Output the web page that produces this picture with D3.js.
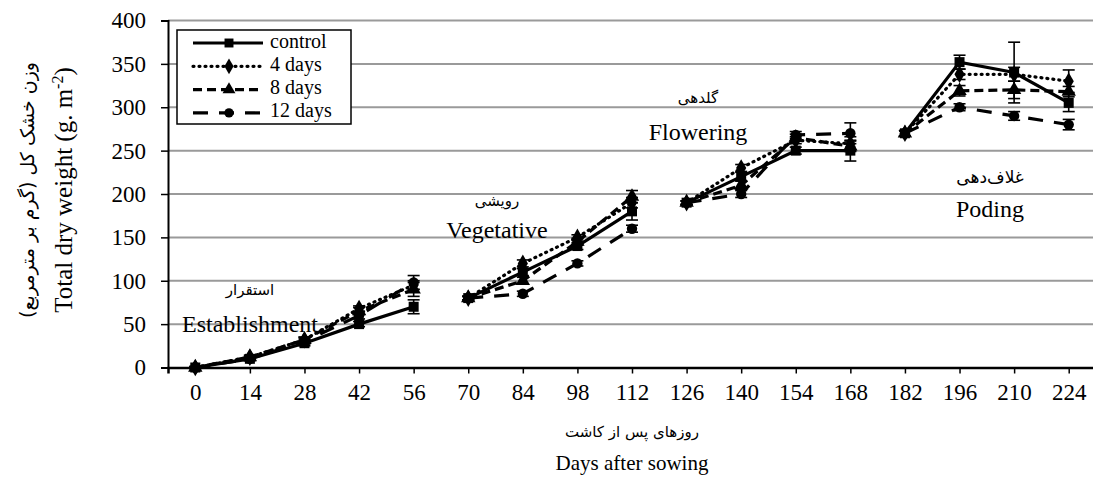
<!DOCTYPE html>
<html>
<head>
<meta charset="utf-8">
<script src="https://cdn.jsdelivr.net/npm/d3@7"></script>
<style>
  body { margin: 0; background: #fff; }
  text { font-family: "Liberation Serif", "Times New Roman", serif; fill: #000; }
  .fa { font-family: "DejaVu Sans", sans-serif; }
</style>
</head>
<body>
<div id="chart"></div>
<script>
// Data
var days = [0, 14, 28, 42, 56, 70, 84, 98, 112, 126, 140, 154, 168, 182, 196, 210, 224];
// growth stage each sampling day belongs to (lines break between stages)
var stage = [0, 0, 0, 0, 0, 1, 1, 1, 1, 2, 2, 2, 2, 3, 3, 3, 3];

var seriesNames = ["control", "4 days", "8 days", "12 days"];

var control = [0, 10, 28, 50, 70, 80, 110, 140, 180, 190, 220, 250, 250, 270, 352, 340, 305];
var days4   = [0, 12, 32, 68, 95, 80, 120, 150, 190, 190, 230, 262, 258, 270, 338, 338, 330];
var days8   = [0, 12, 32, 65, 90, 80, 100, 145, 197, 190, 210, 265, 255, 270, 319, 320, 318];
var days12  = [0, 10, 30, 60, 98, 80, 85, 120, 160, 190, 200, 268, 270, 270, 300, 290, 280];

var errControl = [1, 2, 3, 3, 8, 2, 4, 4, 10, 2, 5, 4, 12, 3, 8, 35, 10];
var errDays4   = [1, 2, 3, 3, 5, 2, 4, 3, 6, 2, 4, 4, 8, 3, 6, 8, 13];
var errDays8   = [1, 2, 3, 4, 8, 2, 4, 4, 7, 2, 5, 4, 6, 3, 6, 10, 6];
var errDays12  = [1, 2, 3, 4, 8, 2, 3, 3, 4, 2, 4, 4, 12, 3, 4, 5, 6];

var yTicks = [0, 50, 100, 150, 200, 250, 300, 350, 400];

var stageEn = ["Establishment", "Vegetative", "Flowering", "Poding"];
var stageFa = ["استقرار", "رویشی", "گلدهی", "غلاف‌دهی"];

var xTitleEn = "Days after sowing";
var xTitleFa = "روزهای پس از کاشت";
var yTitleFa = "وزن خشک کل (گرم بر مترمربع)";

var svgWidth = 1093;
var svgHeight = 485;
var margin = { top: 20.5, left: 168 };
var width = 928;
var height = 347;

var svg = d3.select("#chart")
    .append("svg")
    .attr("width", svgWidth)
    .attr("height", svgHeight);

var chartGroup = svg.append("g")
    .attr("transform", `translate(${margin.left}, ${margin.top})`);

var x = d3.scalePoint()
    .domain(days)
    .range([0, width])
    .padding(0.5);

var y = d3.scaleLinear()
    .domain([0, 400])
    .range([height, 0]);

// gridlines
chartGroup.append("g")
    .selectAll("line")
    .data(yTicks.slice(1))
    .enter()
    .append("line")
    .attr("x1", 0)
    .attr("x2", width)
    .attr("y1", d => y(d))
    .attr("y2", d => y(d))
    .attr("stroke", "#9a9a9a")
    .attr("stroke-width", 2);

// axes
var xAxis = chartGroup.append("g")
    .attr("transform", `translate(0, ${height})`)
    .call(d3.axisBottom(x).tickSize(6).tickPadding(10));
xAxis.select(".domain").attr("stroke-width", 2.5);
xAxis.selectAll(".tick line").attr("stroke-width", 1.5);
xAxis.selectAll("text").style("font-size", "23px").attr("font-family", null);

var yAxis = chartGroup.append("g")
    .call(d3.axisLeft(y).tickValues(yTicks).tickSize(7).tickPadding(15));
yAxis.select(".domain").attr("stroke-width", 2);
yAxis.selectAll(".tick line").attr("stroke-width", 1.5);
yAxis.selectAll("text").style("font-size", "23px").attr("font-family", null);

var allSeries = [
    { name: seriesNames[0], values: control, err: errControl, dash: null, symbol: d3.symbolSquare, size: 100 },
    { name: seriesNames[1], values: days4, err: errDays4, dash: "1,5", symbol: d3.symbolDiamond, size: 90 },
    { name: seriesNames[2], values: days8, err: errDays8, dash: "9,5", symbol: d3.symbolTriangle, size: 90 },
    { name: seriesNames[3], values: days12, err: errDays12, dash: "15,11", symbol: d3.symbolCircle, size: 85 }
];

var line = d3.line()
    .x(d => x(d.day))
    .y(d => y(d.v));

// draw each series, one path per growth stage
allSeries.forEach(function(s) {
    var pts = days.map((d, i) => ({ day: d, v: s.values[i], e: s.err[i], st: stage[i] }));
    d3.groups(pts, p => p.st).forEach(function(g) {
        chartGroup.append("path")
            .datum(g[1])
            .attr("d", line)
            .attr("fill", "none")
            .attr("stroke", "#000")
            .attr("stroke-width", 3.2)
            .attr("stroke-linecap", s.dash === "1,5" ? "round" : "butt")
            .attr("stroke-dasharray", s.dash);
    });
    s.pts = pts;
});

// error bars
allSeries.forEach(function(s) {
    var eb = chartGroup.append("g").attr("stroke", "#000").attr("stroke-width", 1.6);
    s.pts.forEach(function(p) {
        var cx = x(p.day);
        eb.append("line").attr("x1", cx).attr("x2", cx).attr("y1", y(p.v - p.e)).attr("y2", y(p.v + p.e));
        [p.v - p.e, p.v + p.e].forEach(function(v) {
            eb.append("line").attr("x1", cx - 6).attr("x2", cx + 6).attr("y1", y(v)).attr("y2", y(v));
        });
    });
});

// markers
allSeries.forEach(function(s) {
    chartGroup.append("g")
        .selectAll("path")
        .data(s.pts)
        .enter()
        .append("path")
        .attr("transform", d => `translate(${x(d.day)}, ${y(d.v)})`)
        .attr("d", d3.symbol().type(s.symbol).size(s.size))
        .attr("fill", "#000");
});

// stage labels
var stagePos = [[250, 290, 332], [497, 201, 238], [698, 98, 140], [990, 178, 217]];
stagePos.forEach(function(p, i) {
    svg.append("text")
        .attr("class", "fa")
        .attr("x", p[0])
        .attr("y", p[1])
        .attr("text-anchor", "middle")
        .attr("dominant-baseline", "middle")
        .attr("direction", "rtl")
        .style("font-size", i === 3 ? "17px" : "15px")
        .text(stageFa[i]);
    svg.append("text")
        .attr("x", p[0])
        .attr("y", p[2])
        .attr("text-anchor", "middle")
        .style("font-size", "24px")
        .text(stageEn[i]);
});

// axis titles
svg.append("text")
    .attr("class", "fa")
    .attr("x", 632)
    .attr("y", 432)
    .attr("text-anchor", "middle")
    .attr("dominant-baseline", "middle")
    .attr("direction", "rtl")
    .style("font-size", "15px")
    .text(xTitleFa);

svg.append("text")
    .attr("x", 632)
    .attr("y", 470)
    .attr("text-anchor", "middle")
    .style("font-size", "21px")
    .text(xTitleEn);

var yMid = margin.top + height / 2 - 4;
svg.append("text")
    .attr("class", "fa")
    .attr("transform", `translate(28, ${yMid}) rotate(-90)`)
    .attr("text-anchor", "middle")
    .attr("dominant-baseline", "middle")
    .attr("direction", "rtl")
    .style("font-size", "19px")
    .text(yTitleFa);

var yTitle = svg.append("text")
    .attr("transform", `translate(72, ${yMid}) rotate(-90)`)
    .attr("text-anchor", "middle")
    .style("font-size", "25px");
yTitle.append("tspan").text("Total dry  weight (g. m");
yTitle.append("tspan").attr("dy", -9).style("font-size", "16px").text("-2");
yTitle.append("tspan").attr("dy", 9).text(")");

// legend
var legend = svg.append("g");
legend.append("rect")
    .attr("x", 177)
    .attr("y", 30)
    .attr("width", 174)
    .attr("height", 94)
    .attr("fill", "#fff")
    .attr("stroke", "#000")
    .attr("stroke-width", 1.5);

allSeries.forEach(function(s, i) {
    var ly = 43 + i * 23.3;
    legend.append("line")
        .attr("x1", 193)
        .attr("x2", 263)
        .attr("y1", ly)
        .attr("y2", ly)
        .attr("stroke", "#000")
        .attr("stroke-width", 3.2)
        .attr("stroke-linecap", s.dash === "1,5" ? "round" : "butt")
        .attr("stroke-dasharray", s.dash);
    legend.append("path")
        .attr("transform", `translate(229, ${ly})`)
        .attr("d", d3.symbol().type(s.symbol).size(s.size * 0.8))
        .attr("fill", "#000");
    legend.append("text")
        .attr("x", 270)
        .attr("y", ly)
        .attr("dominant-baseline", "middle")
        .style("font-size", "20px")
        .text(s.name);
});
</script>
</body>
</html>
